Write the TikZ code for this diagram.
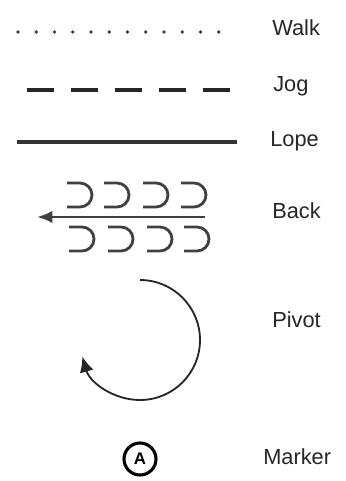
\documentclass[tikz,border=0pt]{standalone}
\usepackage{fontspec}
\setmainfont{Liberation Sans}
\usepackage{tikz}
\usetikzlibrary{calc}
\usetikzlibrary{arrows.meta}

\tikzset{
  lbl/.style={anchor=west,inner sep=0pt,text=black!85,font=\fontsize{15.5}{18}\selectfont},
  cup/.style={line width=2pt,color=black!75},
}

\begin{document}
\begin{tikzpicture}[x=0.025cm,y=-0.025cm]
            \useasboundingbox (0,0) rectangle (346,481);
            \coordinate (walkl) at (18,32);
            \coordinate (walkr) at (237,32);
            \coordinate (jogl) at (27,90);
            \coordinate (jogr) at (230,90);
            \coordinate (lopel) at (17,142);
            \coordinate (loper) at (237,142);
            \coordinate (backr) at (205,217);
            \coordinate (backl) at (37,217);
            \coordinate (pivot) at (140,340);
            \node[lbl] (walk) at (272,28) {Walk};
            \node[lbl] (jog) at (273,86) {Jog};
            \node[lbl] (lope) at (270,141) {Lope};
            \node[lbl] (back) at (272,211) {Back};
            \node[lbl] (piv) at (272,320) {Pivot};
            \node[lbl] (marker) at (263,457) {Marker};
            \draw[black!75,line width=2.6pt,line cap=round,dash pattern=on 0pt off 12.98pt](walkl)--(walkr);
            \draw[black!85,line width=2.6pt,dash pattern=on 19.2pt off 12.1pt](jogl)--(jogr);
            \draw[black!80,line width=2.8pt](lopel)--(loper);
            \draw[black!75,line width=2pt,-{Latex[length=11pt,width=9pt]}](backr)--(backl);
            \foreach \x in {67,104,143,181}
              \draw[cup](\x,183)--++(13,0)arc(-90:90:12)--++(-13,0);
            \foreach \x in {69,108,147,184}
              \draw[cup](\x,227)--++(13,0)arc(-90:90:12)--++(-13,0);
            \draw[black!85,line width=1.3pt,-{Latex[length=11pt,width=10pt]}]($(pivot)+(0,-60)$)arc(-90:164:60);
            \node[draw,circle,line width=2.2pt,minimum size=0.8cm,inner sep=0pt,font=\bfseries\fontsize{12}{14}\selectfont] (a) at (140,459) {A};
        \end{tikzpicture}
\end{document}
